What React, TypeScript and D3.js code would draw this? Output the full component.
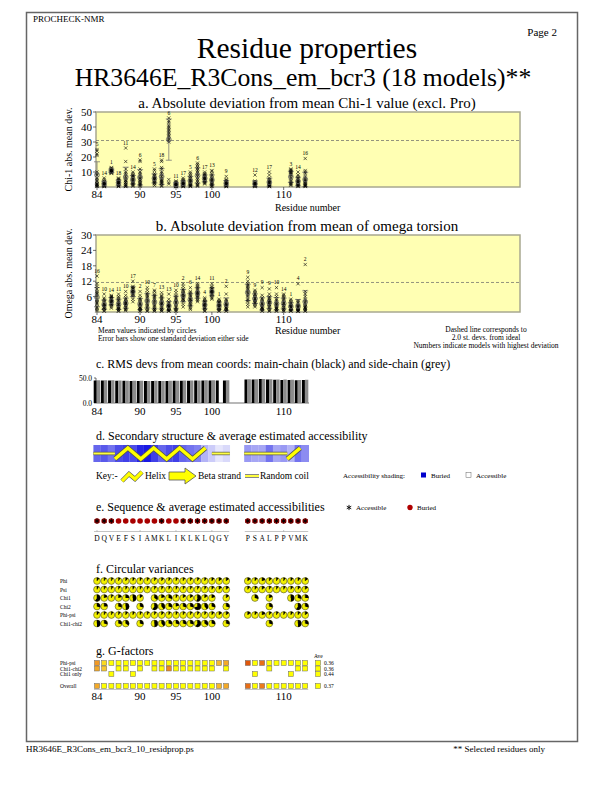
import React from 'react';
import * as d3 from 'd3';

const residues = [84,85,86,87,88,89,90,91,92,93,94,95,96,97,98,99,100,101,102,105,106,107,108,109,110,111,112,113];
const sequence = ['D','Q','V','E','F','S','I','A','M','K','L','I','K','L','K','L','Q','G','Y','P','S','A','L','P','P','V','M','K'];
const axisTicks = [84,90,95,100,110];

const chi1Residues = [84,85,86,87,88,89,90,92,93,94,95,96,97,98,99,100,102,106,108,111,112,113];
const chi1Labels = [5,14,1,18,11,14,6,5,18,6,11,17,5,6,17,13,9,12,17,3,14,16];
const chi1Values = [
  [25,24,22,21,10,9,8,6,5,4,3,2,2,1.5,1,1,0.5,0.3],
  [6,5,4,3.5,3,3,2.5,2,2,2,1.5,1.5,1,1,1,0.5,0.5,0.2],
  [13,12.5,12,12,11.5,11.5,11,11,11,10.5,10.5,10.5,10,10,10,9.5,9.5,9],
  [6,5.5,5,4.5,4,4,3.5,3,3,2.5,2.5,2,2,1.5,1,1,0.5,0.3],
  [26,17,12,10,9,8,7,6,5,4.5,4,3,3,2,1.5,1,0.5,0.3],
  [10,9,8,7.5,7,6.5,6,5.5,5,4.5,4,3.5,3,2.5,2,1.5,1,0.5],
  [18,17,12,10,9,8,7,6,5.5,5,4.5,4,3,2.5,2,1.5,1,0.5],
  [12,11,9,8,7.5,7,6.5,6,5.5,5,5,4.5,4,3.5,3,2.5,2,1],
  [18,17,13,12,10,9,8,7,6,5,4.5,4,3.5,3,2.5,2,1,0.5],
  [46,44,43,41,40,39,38,37,36,35,34,33,32,31,30,5,3,2],
  [4,3.5,3,3,2.5,2.5,2,2,2,1.5,1.5,1,1,1,0.5,0.5,0.3,0.2],
  [6,5,4.5,4,3.5,3,3,2.5,2.5,2,2,1.5,1.5,1,1,0.5,0.5,0.2],
  [10,9,8,7,6,5.5,5,4.5,4,3.5,3,2.5,2,1.5,1,1,0.5,0.3],
  [16,15,14,13,12,11,10,9,8,7,6,5,4,3,2,1.5,1,0.5],
  [10,9,8.5,8,7.5,7,6.5,6,6,5.5,5,5,4.5,4,3.5,3,2.5,2],
  [11,10.5,9,8,7,6,5.5,5,4.5,4,3.5,3,2.5,2,1.5,1,0.5,0.3],
  [7,5,4.5,4,3.5,3,3,2.5,2.5,2,2,1.5,1.5,1,1,0.5,0.5,0.2],
  [8,4,3.5,3,3,2.5,2.5,2,2,2,1.5,1.5,1,1,1,0.5,0.5,0.2],
  [10,8,6,5,4.5,4,3.5,3,3,2.5,2,2,1.5,1,1,0.5,0.5,0.2],
  [12,11.5,11,10.5,10,9.5,9,8.5,8,7,6,5,4,3,2.5,2,1.5,1],
  [10,8,7,6,5.5,5,4.5,4,3.5,3,3,2.5,2,1.5,1,1,0.5,0.3],
  [19,11,10,9,7,6,5,4.5,4,3.5,3,2.5,2,1.5,1,1,0.5,0.3],
];

const omegaLabels = [16,10,14,11,10,17,2,10,7,13,13,10,2,6,14,4,11,1,2,9,9,9,9,10,14,1,4,2];
const omegaValues = [
  [14,11,10,9,8,7.5,7,6.5,6,5,4.5,4,3.5,3,2,1.5,1,0.5],
  [7,5.5,5,4.5,4,3.5,3,3,2.5,2.5,2,2,2,1.5,1.5,1,0.5,0.3],
  [6.5,6,6,5.5,5.5,5,5,4.5,4.5,4,4,3.5,3.5,3,3,2.5,2,1.5],
  [7,6,5.5,5,4.5,4,3.5,3,3,2.5,2,2,1.5,1.5,1,1,0.5,0.3],
  [8,6.5,5.5,5,4.5,4,4,3.5,3.5,3,3,2.5,2.5,2,1.5,1,1,0.5],
  [12,10,9.5,9.5,9,9,8.5,8.5,8,8,7.5,7.5,7,7,6.5,6,5,4],
  [8,6.5,5.5,5,4.5,4,3.5,3,3,2.5,2,2,1.5,1.5,1,1,0.5,0.3],
  [9.5,8.5,7.5,7,6.5,6,5.5,5,4.5,4,3.5,3,2.5,2,1.5,1,0.5,0.3],
  [8.5,8,7,6.5,6,5.5,5,4.5,4,3.5,3,2.5,2,1.5,1,1,0.5,0.3],
  [7.5,6.5,6,5.5,5,4.5,4,3.5,3.5,3,3,2.5,2,1.5,1,1,0.5,0.3],
  [7,5,4,3.5,3,3,2.5,2.5,2,2,2,1.5,1.5,1,1,0.5,0.5,0.3],
  [8.5,7.5,6.5,6,5.5,5,4.5,4,4,3.5,3,2.5,2,1.5,1,1,0.5,0.3],
  [11,10,9,8.5,8,7.5,7,7,6.5,6,6,5.5,5,5,4.5,4,3,2],
  [9.5,8,7.5,7,6.5,6,5.5,5,5,4.5,4,4,3.5,3,2.5,2,1.5,1],
  [11,10.5,10,9.5,9,8.5,8,7.5,7.5,7,7,6.5,6.5,6,5.5,5,4.5,4],
  [5.5,5,4.5,4,4,3.5,3.5,3,3,2.5,2.5,2,2,1.5,1.5,1,0.5,0.3],
  [11,10,9.5,9,9,8.5,8.5,8,8,8,7.5,7.5,7,7,6.5,6,5.5,5],
  [5,4.5,4,4,3.5,3.5,3,3,2.5,2.5,2,2,1.5,1.5,1,1,0.5,0.3],
  [10,7,5,4.5,4,3.5,3,3,2.5,2.5,2,2,1.5,1.5,1,1,0.5,0.3],
  [13.5,12,11,10.5,10,9.5,9,8.5,8,7.5,7,6.5,6,5,4.5,4,3,2],
  [8.5,8,7.5,7,6.5,6,6,5.5,5,5,4.5,4.5,4,4,3.5,3,2.5,2],
  [9.5,6.5,5.5,5,4.5,4,3.5,3,3,2.5,2,2,1.5,1.5,1,1,0.5,0.3],
  [9,7,6,5.5,5,4.5,4.5,4,4,3.5,3,3,2.5,2,1.5,1,0.5,0.3],
  [9.5,7,6,5,4.5,4,3.5,3,3,2.5,2,2,1.5,1.5,1,1,0.5,0.3],
  [7,6.5,6,5.5,5,4.5,4,3.5,3.5,3,2.5,2.5,2,1.5,1,1,0.5,0.3],
  [5,4.5,4,3.5,3,3,2.5,2.5,2,2,1.5,1.5,1,1,1,0.5,0.5,0.3],
  [11,4.5,4,3.5,3,2.5,2.5,2,2,1.5,1.5,1,1,1,0.5,0.5,0.3,0.2],
  [18.5,8,7,6,5,4.5,4,3.5,3,2.5,2,2,1.5,1.5,1,1,0.5,0.3],
];

const mainChainRms = [45,45,45,44.5,44.5,44,44,44,44,44,44,44.5,44.5,44.5,45,45,45,45,45,47,47,48,47,46.5,46,46,45.5,46];
const sideChainRms = [45.5,45.5,45.5,45,44.5,44.5,44.5,44,44.5,44,44.5,44.5,45,45,45,45.5,45.5,null,45.5,47.5,47.5,48,47.5,47,47,46.5,46,46.5];

const accessShade = [0.6,0.65,0.55,0.7,0.75,0.7,0.85,0.9,0.75,0.6,0.7,0.75,0.6,0.55,0.5,0.3,0.2,0.1,0.15,0.4,0.35,0.35,0.55,0.35,0.4,0.3,0.55,0.45];
const helixSegments = [[86.5, 100], [110.5, 113]];
const coilSegments = [[84, 86.5], [100, 102], [105, 110.5]];

const chi2Residues = [84,85,87,88,90,92,93,94,95,96,97,98,99,100,102,108,112,113];
const cvPhi = [0.12,0.1,0.1,0.1,0.12,0.1,0.1,0.1,0.1,0.12,0.1,0.1,0.1,0.1,0.1,0.1,0.12,0.15,0.15,0.15,0.12,0.2,0.12,0.1,0.1,0.12,0.12,0.15];
const cvPsi = [0.1,0.1,0.1,0.1,0.1,0.1,0.1,0.1,0.1,0.1,0.1,0.1,0.1,0.1,0.1,0.1,0.12,0.15,0.15,0.12,0.12,0.15,0.1,0.1,0.1,0.12,0.12,0.15];
const cvChi1 = [0.6,0.2,0.1,0.2,0.25,0.5,0.15,0.35,0.2,0.3,0.1,0.15,0.15,0.55,0.15,0.2,0.15,0.3,0.2,0.5,0.3,0.25];
const cvChi2 = [0.3,0.25,0.3,0.5,0.3,0.6,0.4,0.3,0.2,0.3,0.3,0.7,0.4,0.3,0.3,0.3,0.6,0.3];
const cvPhiPsi = [0.12,0.1,0.1,0.1,0.12,0.1,0.1,0.1,0.1,0.12,0.1,0.1,0.1,0.1,0.1,0.1,0.12,0.15,0.15,0.15,0.12,0.2,0.12,0.1,0.1,0.12,0.12,0.15];
const cvChi1Chi2 = [0.5,0.3,0.3,0.35,0.3,0.5,0.4,0.3,0.3,0.3,0.3,0.6,0.35,0.3,0.3,0.3,0.5,0.3];

const gPhiPsi = [-0.3,0.1,0.5,0.5,0.5,0.5,0.5,0.5,0.5,0.5,0.5,0.5,0.5,0.5,0.5,0.5,0.5,-0.1,-0.2,-0.8,0.4,-0.6,0.5,0.5,0.5,0.5,0.5,0.5];
const gChi1Chi2 = [-0.2,0.0,0.4,0.4,0.4,0.4,0.4,-0.4,0.4,0.4,0.4,0.4,0.4,0.4,0.4,0.4,0.4,0.4];
const chi1OnlyResidues = [86,89,106,111];
const gChi1Only = [0.4,0.4,0.4,0.4];
const gOverall = [-0.2,0.3,0.4,0.4,0.4,0.4,0.4,0.4,0.4,0.4,0.4,0.4,0.4,0.4,0.4,0.4,0.4,-0.1,-0.2,-0.6,0.3,-0.5,0.4,0.4,0.4,0.4,0.4,0.4];
const gAverages = ['0.36','0.36','0.44','0.37'];

const FONT = "'Liberation Serif', 'Times New Roman', 'DejaVu Serif', serif";

const x = d3.scaleLinear().domain([84, 113]).range([97, 97 + 29 * 7.18]);
const gColor = d3.scaleLinear<string>().domain([-1, -0.5, 0, 0.3]).range(['#d84000', '#ec7a1c', '#f8c830', '#ffff00']).clamp(true);
const shade = d3.interpolateRgb('#ffffff', '#0000e0');

function mean(v: number[]) { return d3.mean(v) as number; }
function sd(v: number[]) { return d3.deviation(v) as number; }

function Cross({ cx, cy }: { cx: number; cy: number }) {
  const s = 1.6;
  return <path d={`M${cx - s},${cy - s}L${cx + s},${cy + s}M${cx - s},${cy + s}L${cx + s},${cy - s}`} stroke="#000" strokeWidth={0.6} />;
}

function DevPanel(props: any) {
  const { title, titleY, top, bottom, yMax, yTicks, yLabel, cols, values, labels, dashed, resY } = props;
  const y = d3.scaleLinear().domain([0, yMax]).range([bottom, top]);
  return (
    <g>
      <text x={307} y={titleY} fontSize={15} textAnchor="middle">{title}</text>
      <rect x={96} y={top} width={424} height={bottom - top} fill="#ffffb3" stroke="#a8a890" strokeWidth={1.5} />
      <line x1={96} x2={520} y1={y(dashed)} y2={y(dashed)} stroke="#666" strokeWidth={0.7} strokeDasharray="3,2" />
      {yTicks.map((t: number) => (
        <g key={t}>
          <line x1={93} x2={96} y1={y(t)} y2={y(t)} stroke="#333" strokeWidth={0.7} />
          <text x={92} y={y(t) + 4} fontSize={11} textAnchor="end">{t}</text>
        </g>
      ))}
      {axisTicks.map((t) => (
        <g key={t}>
          <line x1={x(t)} x2={x(t)} y1={bottom} y2={bottom + 3} stroke="#333" strokeWidth={0.7} />
          <text x={x(t)} y={bottom + 11} fontSize={11} textAnchor="middle">{t}</text>
        </g>
      ))}
      <text transform={`translate(72,${(top + bottom) / 2}) rotate(-90)`} fontSize={10} textAnchor="middle">{yLabel}</text>
      <text x={275} y={resY} fontSize={10}>Residue number</text>
      {cols.map((r: number, i: number) => {
        const v = values[i];
        const m = mean(v), s = sd(v);
        const cx = x(r);
        const lo = Math.max(0, m - s), hi = m + s;
        const mx = d3.max(v) as number;
        return (
          <g key={r}>
            <line x1={cx} x2={cx} y1={y(lo)} y2={y(hi)} stroke="#777" strokeWidth={0.8} />
            <line x1={cx - 3} x2={cx + 3} y1={y(hi)} y2={y(hi)} stroke="#777" strokeWidth={0.8} />
            {m - s > 0 && <line x1={cx - 3} x2={cx + 3} y1={y(lo)} y2={y(lo)} stroke="#777" strokeWidth={0.8} />}
            {v.map((val: number, j: number) => <Cross key={j} cx={cx} cy={y(val)} />)}
            <circle cx={cx} cy={y(m)} r={2.4} fill="none" stroke="#666" strokeWidth={0.8} />
            <text x={cx} y={y(mx) - 3.5} fontSize={5.5} textAnchor="middle">{labels[i]}</text>
          </g>
        );
      })}
    </g>
  );
}

function Pie({ cx, cy, v }: { cx: number; cy: number; v: number }) {
  const r = 3.4;
  const arc = d3.arc()({ innerRadius: 0, outerRadius: r, startAngle: 0, endAngle: Math.PI * 2 * v } as any) as string;
  return (
    <g transform={`translate(${cx},${cy})`}>
      <circle r={r} fill="#f2f000" stroke="#333" strokeWidth={0.5} />
      <path d={arc} fill="#000" />
      <line x1={0} y1={0} x2={0} y2={-r} stroke="#000" strokeWidth={0.5} />
    </g>
  );
}

function Asterisk({ cx, cy }: { cx: number; cy: number }) {
  const s = 2.6;
  const d = [0, 60, 120].map((a) => {
    const rad = (a * Math.PI) / 180;
    const dx = Math.sin(rad) * s, dy = Math.cos(rad) * s;
    return `M${cx - dx},${cy - dy}L${cx + dx},${cy + dy}`;
  }).join('');
  return <path d={d} stroke="#000" strokeWidth={0.9} />;
}

export default function App() {
  const cellW = 7.18;
  const ssTop = 445, ssBot = 462, ssMid = (ssTop + ssBot) / 2;
  const groups = [[84, 102], [105, 113]];
  const helixPath = (a: number, b: number) => {
    const pts: [number, number][] = [];
    const step = 1.8;
    let up = false;
    for (let r = a; r <= b + 0.001; r += step) {
      pts.push([x(r), up ? ssTop + 3 : ssBot - 3]);
      up = !up;
    }
    return d3.line()(pts) as string;
  };
  const cvRows = [
    { label: 'Phi', res: residues, v: cvPhi },
    { label: 'Psi', res: residues, v: cvPsi },
    { label: 'Chi1', res: chi1Residues, v: cvChi1 },
    { label: 'Chi2', res: chi2Residues, v: cvChi2 },
    { label: 'Phi-psi', res: residues, v: cvPhiPsi },
    { label: 'Chi1-chi2', res: chi2Residues, v: cvChi1Chi2 },
  ];
  const gRows = [
    { label: 'Phi-psi', res: residues, v: gPhiPsi, y: 663 },
    { label: 'Chi1-chi2', res: chi2Residues, v: gChi1Chi2, y: 668.5 },
    { label: 'Chi1 only', res: chi1OnlyResidues, v: gChi1Only, y: 674 },
    { label: 'Overall', res: residues, v: gOverall, y: 686 },
  ];
  const rmsY = d3.scaleLinear().domain([0, 50]).range([403, 378]);
  const coilEnd = (v: number, start: boolean) => x(v) + (start ? (v === 84 || v === 105 ? -cellW / 2 : 0) : (v === 102 ? cellW / 2 : 0));
  return (
    <svg width={612} height={792} style={{ position: 'absolute', left: 0, top: 0, background: '#fff', fontFamily: FONT }}>
      <rect x={0} y={0} width={612} height={792} fill="#fff" />
      <rect x={26.5} y={12.5} width={551} height={729} fill="none" stroke="#666" strokeWidth={1.5} />
      <text x={33} y={22} fontSize={9}>PROCHECK-NMR</text>
      <text x={557} y={36} fontSize={11} textAnchor="end">Page  2</text>
      <text x={307} y={58} fontSize={29.5} textAnchor="middle">Residue properties</text>
      <text x={303} y={86} fontSize={25.7} textAnchor="middle">HR3646E_R3Cons_em_bcr3 (18 models)**</text>

      <DevPanel title="a. Absolute deviation from mean Chi-1 value (excl. Pro)" titleY={108} top={112} bottom={187} yMax={50}
        yTicks={[10, 20, 30, 40, 50]} yLabel="Chi-1 abs. mean dev." cols={chi1Residues} values={chi1Values} labels={chi1Labels}
        dashed={31} resY={211} />
      <DevPanel title="b. Absolute deviation from mean of omega torsion" titleY={231} top={235} bottom={312} yMax={30}
        yTicks={[6, 12, 18, 24, 30]} yLabel="Omega abs. mean dev." cols={residues} values={omegaValues} labels={omegaLabels}
        dashed={11.5} resY={334} />
      <g fontSize={7.5}>
        <text x={98} y={333}>Mean values indicated by circles</text>
        <text x={98} y={341}>Error bars show one standard deviation either side</text>
        <text x={486} y={332} textAnchor="middle">Dashed line corresponds to</text>
        <text x={486} y={340} textAnchor="middle">2.0 st. devs. from ideal</text>
        <text x={486} y={348} textAnchor="middle">Numbers indicate models with highest deviation</text>
      </g>

      {/* c */}
      <text x={96} y={368} fontSize={12}>c. RMS devs from mean coords: main-chain (black) and side-chain (grey)</text>
      <line x1={96} x2={96} y1={378} y2={403} stroke="#333" strokeWidth={0.7} />
      <line x1={94} x2={96} y1={378} y2={378} stroke="#333" strokeWidth={0.7} />
      <line x1={94} x2={96} y1={403} y2={403} stroke="#333" strokeWidth={0.7} />
      <line x1={96} x2={309} y1={403} y2={403} stroke="#333" strokeWidth={0.7} />
      <text x={92} y={381} fontSize={7.5} textAnchor="end">50.0</text>
      <text x={92} y={406} fontSize={7.5} textAnchor="end">0.0</text>
      {residues.map((r, i) => (
        <g key={r}>
          <rect x={x(r) - 3.3} y={rmsY(mainChainRms[i])} width={3} height={403 - rmsY(mainChainRms[i])} fill="#000" />
          {sideChainRms[i] != null && (
            <rect x={x(r) - 0.3} y={rmsY(sideChainRms[i] as number)} width={3.4} height={403 - rmsY(sideChainRms[i] as number)} fill="#8c8c8c" />
          )}
        </g>
      ))}
      {axisTicks.map((t) => <text key={t} x={x(t)} y={415} fontSize={11} textAnchor="middle">{t}</text>)}

      {/* d */}
      <text x={96} y={440} fontSize={12}>d. Secondary structure &amp; average estimated accessibility</text>
      {residues.map((r, i) => (
        <rect key={r} x={x(r) - cellW / 2} y={ssTop} width={cellW + 0.2} height={ssBot - ssTop} fill={shade(accessShade[i])} />
      ))}
      {coilSegments.map(([a, b], i) => (
        <g key={i}>
          <line x1={coilEnd(a, true)} x2={coilEnd(b, false)} y1={ssMid} y2={ssMid} stroke="#555" strokeWidth={3.4} />
          <line x1={coilEnd(a, true)} x2={coilEnd(b, false)} y1={ssMid} y2={ssMid} stroke="#ffff40" strokeWidth={2} />
        </g>
      ))}
      {helixSegments.map(([a, b], i) => (
        <g key={i}>
          <path d={helixPath(a, b)} fill="none" stroke="#555" strokeWidth={5} strokeLinejoin="miter" />
          <path d={helixPath(a, b)} fill="none" stroke="#ffff00" strokeWidth={3.6} strokeLinejoin="miter" />
        </g>
      ))}
      <g fontSize={9.5}>
        <text x={96} y={479}>Key:-</text>
        <path d="M122,481L129,474L135,479L142,472" fill="none" stroke="#555" strokeWidth={4.5} />
        <path d="M122,481L129,474L135,479L142,472" fill="none" stroke="#ffff00" strokeWidth={3.2} />
        <text x={145} y={479}>Helix</text>
        <path d="M169,472H185V468L196,476L185,484V480H169Z" fill="#ffff00" stroke="#555" strokeWidth={0.8} />
        <text x={198} y={479}>Beta strand</text>
        <line x1={245} x2={259} y1={476} y2={476} stroke="#555" strokeWidth={3.4} />
        <line x1={245} x2={259} y1={476} y2={476} stroke="#ffff40" strokeWidth={2} />
        <text x={260} y={479}>Random coil</text>
        <text x={343} y={478} fontSize={7}>Accessibility shading:</text>
        <rect x={421} y={472.5} width={5} height={5} fill="#0000cc" />
        <text x={431} y={478} fontSize={7}>Buried</text>
        <rect x={466} y={472.5} width={5} height={5} fill="#fff" stroke="#666" strokeWidth={0.5} />
        <text x={476} y={478} fontSize={7}>Accessible</text>
      </g>

      {/* e */}
      <text x={96} y={511} fontSize={12}>e. Sequence &amp; average estimated accessibilities</text>
      <Asterisk cx={349} cy={507.5} />
      <text x={356} y={510} fontSize={7}>Accessible</text>
      <circle cx={410} cy={507.5} r={2.7} fill="#b00000" />
      <text x={417} y={510} fontSize={7}>Buried</text>
      {residues.map((r, i) => (
        <g key={r}>
          <circle cx={x(r)} cy={521} r={2.8} fill="#a80000" />
          {accessShade[i] < 0.7 && <Asterisk cx={x(r)} cy={521} />}
          <text x={x(r)} y={541} fontSize={7.5} textAnchor="middle">{sequence[i]}</text>
        </g>
      ))}
      {groups.map(([a, b], i) => (
        <line key={i} x1={x(a) - 3} x2={x(b) + 3} y1={531.5} y2={531.5} stroke="#888" strokeWidth={0.5} />
      ))}
      {axisTicks.map((t) => <line key={t} x1={x(t)} x2={x(t)} y1={530} y2={531.5} stroke="#888" strokeWidth={0.5} />)}

      {/* f */}
      <text x={96} y={573} fontSize={12}>f. Circular variances</text>
      {cvRows.map((row, k) => {
        const cy = 581 + k * 8.5;
        return (
          <g key={row.label}>
            <text x={60} y={cy + 2} fontSize={5.5}>{row.label}</text>
            {row.res.map((r, i) => <Pie key={r} cx={x(r)} cy={cy} v={row.v[i]} />)}
          </g>
        );
      })}

      {/* g */}
      <text x={96} y={655} fontSize={12}>g. G-factors</text>
      <text x={314} y={658} fontSize={5.5}>Ave</text>
      {gRows.map((row, k) => (
        <g key={row.label}>
          <text x={60} y={row.y + 2} fontSize={5.5}>{row.label}</text>
          {row.res.map((r, i) => (
            <rect key={r} x={x(r) - 2.5} y={row.y - 2.5} width={5} height={5} fill={gColor(row.v[i])} stroke="#666" strokeWidth={0.5} />
          ))}
          <rect x={315.5} y={row.y - 2.5} width={5} height={5} fill="#ffff00" stroke="#666" strokeWidth={0.5} />
          <text x={324} y={row.y + 2} fontSize={5.5}>{gAverages[k]}</text>
        </g>
      ))}
      {groups.map(([a, b], i) => (
        <line key={i} x1={x(a) - 3} x2={x(b) + 3} y1={689.5} y2={689.5} stroke="#888" strokeWidth={0.5} />
      ))}
      {axisTicks.map((t) => <text key={t} x={x(t)} y={700} fontSize={11} textAnchor="middle">{t}</text>)}

      <text x={26} y={752} fontSize={9}>HR3646E_R3Cons_em_bcr3_10_residprop.ps</text>
      <text x={545} y={752} fontSize={9} textAnchor="end">** Selected residues only</text>
    </svg>
  );
}
